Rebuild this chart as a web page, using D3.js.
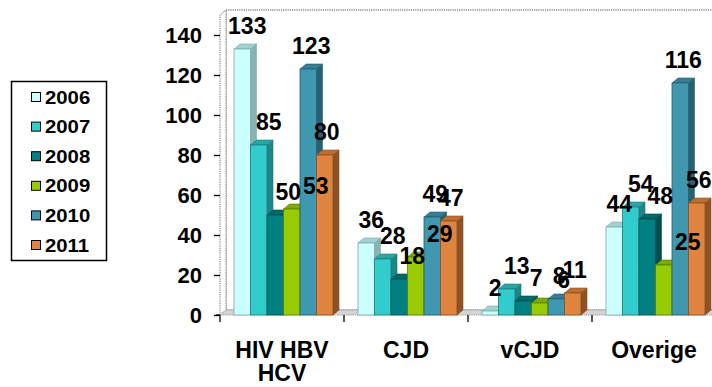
<!DOCTYPE html>
<html>
<head>
<meta charset="utf-8">
<script src="https://cdn.jsdelivr.net/npm/d3@7"></script>
<style>
  html, body { margin: 0; padding: 0; background: #fff; }
  svg { display: block; }
  text { font-family: "Liberation Sans", Arial, sans-serif; font-weight: bold; fill: #000; }
</style>
</head>
<body>
<svg id="chart" width="712" height="387"></svg>
<script>
// Categories, series and axis ticks
const categories = ["HIV HBV HCV", "CJD", "vCJD", "Overige"];
const years = ["2006", "2007", "2008", "2009", "2010", "2011"];
const v2006 = [133, 36, 2, 44];
const v2007 = [85, 28, 13, 54];
const v2008 = [50, 18, 7, 48];
const v2009 = [53, 29, 6, 25];
const v2010 = [123, 49, 8, 116];
const v2011 = [80, 47, 11, 56];
const yTicks = [0, 20, 40, 60, 80, 100, 120, 140];

const seriesValues = [v2006, v2007, v2008, v2009, v2010, v2011];

// Face colours per series: front, top, side
const faceColors = [
  { front: "#ccffff", top: "#9fd3d3", side: "#86b4b4", edge: "#7fa8a8" },
  { front: "#33cccc", top: "#28a6a6", side: "#1f8585", edge: "#1d7d7d" },
  { front: "#008080", top: "#006a6a", side: "#004f4f", edge: "#004c4c" },
  { front: "#99cc00", top: "#7eaa00", side: "#5f8200", edge: "#5c7d00" },
  { front: "#3f98b0", top: "#347f93", side: "#28616f", edge: "#275e6c" },
  { front: "#e0853f", top: "#bf6e32", side: "#8f5224", edge: "#8a4f22" }
];
// horizontal label nudge per series (px)
const labelShift = [2, 7, 10, 21, 0, -1];

const svg = d3.select("#chart");
const depthX = 6, depthY = -5;

const x = d3.scaleBand().domain(categories).range([220, 716]);
const xInner = d3.scaleBand().domain(years).range([14, 113]);
const y = d3.scaleLinear().domain([0, 150]).range([315, 15]);
const y0 = y(0);

// Back wall, side wall and floor
const wallLeft = 226, wallTop = y(150) + depthY, wallRight = 740;
const g = svg.append("g");
g.append("rect")
  .attr("x", wallLeft).attr("y", wallTop)
  .attr("width", wallRight - wallLeft).attr("height", y0 + depthY - wallTop)
  .attr("fill", "#fff")
  .attr("stroke", "#a8a8a8").attr("stroke-width", 2)
  .attr("stroke-dasharray", "1.2,1");
g.append("path")
  .attr("d", `M${x.range()[0]},${y0} L${x.range()[0]},${y(150)} L${wallLeft},${wallTop} L${wallLeft},${y0 + depthY} Z`)
  .attr("fill", "#fff")
  .attr("stroke", "#a8a8a8").attr("stroke-width", 1.6)
  .attr("stroke-dasharray", "1.2,1");
g.append("path")
  .attr("d", `M${x.range()[0]},${y0} L${wallLeft},${y0 + depthY} L${wallRight},${y0 + depthY} L${wallRight},${y0} Z`)
  .attr("fill", "#d4d4d4")
  .attr("stroke", "#9a9a9a").attr("stroke-width", 1)
  .attr("stroke-dasharray", "1.2,1");

// Y axis ticks and labels (no axis line)
const yAxis = d3.axisLeft(y).tickValues(yTicks).tickSize(6).tickPadding(12);
const yg = svg.append("g").attr("transform", `translate(220,0)`).call(yAxis);
yg.select(".domain").remove();
yg.selectAll(".tick line").attr("stroke", "#000").attr("stroke-width", 1.3);
yg.selectAll(".tick text")
  .attr("font-size", 22).attr("font-family", null).attr("fill", "#000")
  .style("font-family", "'Liberation Sans', Arial, sans-serif").style("font-weight", "bold")
  .attr("dy", "0.36em");

// X axis tick marks at category boundaries
const boundaries = categories.map(c => x(c));
svg.append("g").selectAll("line").data(boundaries).join("line")
  .attr("x1", d => d).attr("x2", d => d)
  .attr("y1", y0).attr("y2", y0 + 7)
  .attr("stroke", "#000").attr("stroke-width", 1.3);
svg.append("line")
  .attr("x1", x.range()[0] - 4).attr("x2", x.range()[0])
  .attr("y1", y0).attr("y2", y0)
  .attr("stroke", "#000").attr("stroke-width", 1.3);

// 3D bars, drawn left to right so each front face covers the previous side face
const bars = [];
categories.forEach((c, ci) => {
  years.forEach((yr, si) => {
    bars.push({ c, ci, yr, si, v: seriesValues[si][ci] });
  });
});

const barG = svg.append("g");
bars.forEach(b => {
  const bx = x(b.c) + xInner(b.yr);
  const w = xInner.bandwidth();
  const top = y(b.v);
  const col = faceColors[b.si];
  const grp = barG.append("g");
  grp.append("path")
    .attr("d", `M${bx + w},${top} L${bx + w + depthX},${top + depthY} L${bx + w + depthX},${y0 + depthY} L${bx + w},${y0} Z`)
    .attr("fill", col.side).attr("stroke", col.edge).attr("stroke-width", 0.6);
  grp.append("path")
    .attr("d", `M${bx},${top} L${bx + depthX},${top + depthY} L${bx + w + depthX},${top + depthY} L${bx + w},${top} Z`)
    .attr("fill", col.top).attr("stroke", col.edge).attr("stroke-width", 0.6);
  grp.append("rect")
    .attr("x", bx).attr("y", top)
    .attr("width", w).attr("height", y0 - top)
    .attr("fill", col.front).attr("stroke", col.edge).attr("stroke-width", 0.8);
});

// Value labels
svg.append("g").selectAll("text").data(bars).join("text")
  .attr("x", d => x(d.c) + xInner(d.yr) + xInner.bandwidth() / 2 + depthX / 2 + labelShift[d.si])
  .attr("y", d => y(d.v) - 15)
  .attr("text-anchor", "middle")
  .attr("font-size", 23)
  .text(d => d.v);

// Category labels with word wrap
const catG = svg.append("g");
categories.forEach(c => {
  const t = catG.append("text")
    .attr("text-anchor", "middle")
    .attr("font-size", 23)
    .attr("x", x(c) + x.bandwidth() / 2)
    .attr("y", 358);
  const words = c.split(" ");
  let line = [];
  let tspan = t.append("tspan").attr("x", x(c) + x.bandwidth() / 2).attr("dy", 0);
  let lineNo = 0;
  words.forEach(wd => {
    line.push(wd);
    tspan.text(line.join(" "));
    if (tspan.node().getComputedTextLength() > x.bandwidth() - 4 && line.length > 1) {
      line.pop();
      tspan.text(line.join(" "));
      line = [wd];
      lineNo++;
      tspan = t.append("tspan").attr("x", x(c) + x.bandwidth() / 2).attr("dy", 23).text(wd);
    }
  });
});

// Legend
const lg = svg.append("g");
lg.append("rect")
  .attr("x", 11.5).attr("y", 81.5).attr("width", 95).attr("height", 179)
  .attr("fill", "#fff").attr("stroke", "#000").attr("stroke-width", 1.5);
const legendY = d3.scalePoint().domain(years).range([97, 245]);
years.forEach((yr, i) => {
  lg.append("rect")
    .attr("x", 31.5).attr("y", legendY(yr) - 4.5)
    .attr("width", 9).attr("height", 9)
    .attr("fill", faceColors[i].front).attr("stroke", "#000").attr("stroke-width", 1);
  lg.append("text")
    .attr("transform", `translate(45,${legendY(yr) + 6.5}) scale(1.13,1)`)
    .attr("font-size", 18)
    .text(yr);
});
</script>
</body>
</html>
